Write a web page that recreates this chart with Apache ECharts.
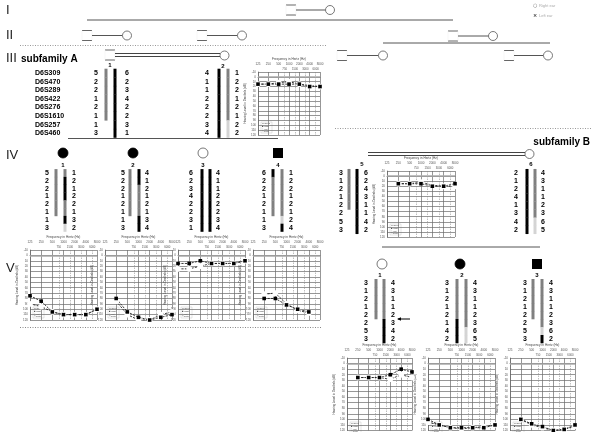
<!DOCTYPE html>
<html>
<head>
<meta charset="utf-8">
<script src="https://cdn.jsdelivr.net/npm/echarts@6/dist/echarts.min.js"></script>
<style>
  html, body { margin: 0; padding: 0; background: #fff; }
  #main { width: 591px; height: 432px; }
</style>
</head>
<body>
<div id="main"></div>
<script>
// ---- data ----
const genLabels = ['I', 'II', 'III', 'IV', 'V'];
const markers = ['D6S309', 'D6S470', 'D6S289', 'D6S422', 'D6S276', 'D6S1610', 'D6S257', 'D6S460'];
const freqLabels = ['125', '250', '500', '1000', '2000', '4000', '8000'];
const midFreqs = [750, 1500, 3000, 6000];
const dbTicks = [-10, 120];

// alleles (left / right haplotype) and bar colour codes per marker: g grey, k black, l light, . none
const III1_L = [5, 2, 2, 1, 2, 1, 1, 3], III1_R = [6, 2, 3, 4, 2, 2, 3, 1], III1_BARS = ['gggggg..', 'kkkkkkkk'];
const III2_L = [4, 1, 1, 2, 2, 2, 3, 4], III2_R = [1, 2, 2, 1, 2, 1, 2, 2], III2_BARS = ['kkkkkkkk', 'ggggggll'];
const IV1_L = [5, 2, 2, 1, 2, 1, 1, 3], IV1_R = [1, 2, 1, 2, 2, 1, 3, 2], IV1_BARS = ['gggggg..', 'gkkkggkl'];
const IV2_L = [5, 2, 2, 1, 2, 1, 1, 3], IV2_R = [4, 1, 2, 1, 2, 1, 3, 4], IV2_BARS = ['gggggg..', 'kkggggkk'];
const IV3_L = [6, 2, 3, 4, 2, 2, 3, 1], IV3_R = [4, 1, 1, 2, 2, 2, 3, 4], IV3_BARS = ['kkkkkkkk', 'kkkkkkkk'];
const IV4_L = [6, 2, 2, 1, 2, 1, 1, 3], IV4_R = [1, 2, 2, 1, 2, 1, 2, 4], IV4_BARS = ['kggggg..', 'gggggglk'];
const B5_L = [3, 1, 2, 1, 2, 2, 5, 3], B5_R = [6, 2, 4, 3, 1, 1, 4, 2], B5_BARS = ['ggggg...', 'kkkkkkkk'];
const B6_L = [2, 1, 2, 4, 1, 3, 4, 2], B6_R = [4, 3, 1, 1, 2, 3, 6, 5], B6_BARS = ['kkkkkkkk', 'ggggggll'];
const BV1_L = [3, 1, 2, 1, 2, 2, 5, 3], BV1_R = [4, 3, 1, 1, 2, 3, 4, 2], BV1_BARS = ['ggggg...', 'gggggkkk'];
const BV2_L = [3, 1, 2, 1, 2, 1, 4, 2], BV2_R = [4, 3, 1, 1, 2, 3, 6, 5], BV2_BARS = ['gggggkkk', 'ggggggll'];
const BV3_L = [3, 1, 2, 1, 2, 2, 5, 3], BV3_R = [4, 3, 1, 1, 2, 3, 6, 2], BV3_BARS = ['ggggg...', 'gggggglk'];

// audiograms, dB HL at 125..8000 Hz (null = not tested)
const AUD_III2_RIGHT = [15, 15, 12, 10, 15, 18, 20];
const AUD_III2_LEFT = [15, 15, 15, 15, 15, 20, 20];
const AUD_V1_RIGHT = [90, 95, 105, 110, 110, 110, 100];
const AUD_V1_LEFT = [75, 85, 105, 110, 110, 110, 100];
const AUD_V2_RIGHT = [null, 85, 110, 120, 120, 110, 105];
const AUD_V2_LEFT = [null, 80, 105, 115, 120, 115, 110];
const AUD_V3_RIGHT = [25, 25, 20, 15, 15, 15, 10];
const AUD_V3_LEFT = [15, 15, 10, 15, 15, 15, 10];
const AUD_V4_RIGHT = [null, 72, 70, 90, 102, 107, null];
const AUD_V4_LEFT = [null, 80, 80, 92, 100, 105, null];
const AUD_B5_RIGHT = [null, 15, 15, 12, 18, 20, 20];
const AUD_B5_LEFT = [null, 15, 15, 15, 20, 20, 15];
const AUD_BV1_RIGHT = [null, 25, 25, 25, 28, 20, 25];
const AUD_BV1_LEFT = [null, 25, 25, 25, 20, 10, 15];
const AUD_BV2_RIGHT = [105, 110, 115, 117, 115, 113, 110];
const AUD_BV2_LEFT = [100, 110, 115, 115, 115, 115, 110];
const AUD_BV3_RIGHT = [null, 100, 110, 115, 120, 118, 112];
const AUD_BV3_LEFT = [null, 100, 108, 113, 120, 118, 110];

// ---- drawing helpers (pedigree as graphic elements) ----
const colours = { g: '#808080', k: '#000', l: '#d4d4d4' };
const G = [];
function ln(x1, y1, x2, y2, style) {
  G.push({ type: 'line', silent: true, shape: { x1, y1, x2, y2 },
    style: Object.assign({ stroke: '#444', lineWidth: 1 }, style || {}) });
}
function txt(x, y, s, font, align, fill) {
  G.push({ type: 'text', silent: true, x, y,
    style: { text: String(s), font: font, textAlign: align || 'center', textVerticalAlign: 'middle', fill: fill || '#000' } });
}
function circle(cx, cy, r, filled) {
  G.push({ type: 'circle', silent: true, shape: { cx, cy, r },
    style: { fill: filled ? '#000' : '#fff', stroke: filled ? '#000' : '#555', lineWidth: 0.8 } });
}
function square(cx, cy, s, filled) {
  if (filled) {
    G.push({ type: 'rect', silent: true, shape: { x: cx - s / 2, y: cy - s / 2, width: s, height: s }, style: { fill: '#000' } });
  } else {
    ln(cx - s / 2, cy - s / 2, cx + s / 2, cy - s / 2, { stroke: '#666' });
    ln(cx - s / 2, cy + s / 2, cx + s / 2, cy + s / 2, { stroke: '#666' });
    ln(cx - s / 2, cy - s / 2, cx - s / 2, cy + s / 2, { stroke: '#eee', lineWidth: 0.5 });
    ln(cx + s / 2, cy - s / 2, cx + s / 2, cy + s / 2, { stroke: '#eee', lineWidth: 0.5 });
  }
}
function couple(sqX, y, circX) {
  square(sqX, y, 10, false);
  ln(sqX + 5, y, circX - 4.5, y, { stroke: '#555' });
  circle(circX, y, 4.5, false);
}
const numFont = 'bold 7px "Liberation Sans", Arial, sans-serif';
const idFont = 'bold 6px "Liberation Sans", Arial, sans-serif';
function haplotype(cols, y0, step, L, R, bars) {
  for (let i = 0; i < L.length; i++) {
    const y = y0 + i * step;
    txt(cols[0], y, L[i], numFont);
    txt(cols[3], y, R[i], numFont);
    [0, 1].forEach(b => {
      const c = bars[b][i];
      if (colours[c]) {
        G.push({ type: 'rect', silent: true,
          shape: { x: cols[1 + b] - 1.5, y: y - step / 2, width: 3, height: step + 0.3 }, style: { fill: colours[c] } });
      }
    });
  }
}

// generation labels
const romanFont = '13px "Liberation Sans", Arial, sans-serif';
const genY = [10, 35, 58, 155, 268];
genLabels.forEach((g, i) => txt(6, genY[i], g, romanFont, 'left', '#222'));

// I and II
couple(291, 10, 330);
ln(87, 20, 453, 20, { stroke: '#555' });
couple(87, 35.5, 127);
couple(202, 35.5, 242);
couple(453, 36, 493);
ln(383, 43, 550, 43, { stroke: '#555' });
ln(20, 45.5, 326, 45.5, { stroke: '#999', lineDash: [1, 1.5] });

// III
txt(21, 59, 'subfamily A', 'bold 10px "Liberation Sans", Arial, sans-serif', 'left');
square(110, 55, 10, false);
ln(115, 53.5, 220, 53.5, { stroke: '#444' });
ln(115, 56.5, 220, 56.5, { stroke: '#444' });
circle(224.5, 55.5, 4.5, false);
txt(110, 65.5, '1', idFont);
txt(223, 66, '2', idFont);
couple(342, 55.5, 383);
couple(509, 55.5, 548);
const IIIy0 = 73, IIIstep = 8.6;
markers.forEach((m, i) => txt(35, IIIy0 + i * IIIstep, m, numFont, 'left'));
haplotype([96, 106, 115, 127], IIIy0, IIIstep, III1_L, III1_R, III1_BARS);
haplotype([207, 219, 228, 237], IIIy0, IIIstep, III2_L, III2_R, III2_BARS);
ln(68, 138.5, 278, 138.5, { stroke: '#555' });

// IV
const ivX = [63, 133, 203, 278];
circle(ivX[0], 153, 5, true);
circle(ivX[1], 153, 5, true);
circle(ivX[2], 153, 5, false);
square(ivX[3], 153, 10, true);
ivX.forEach((x, i) => txt(x, 165, i + 1, idFont));
const IVy0 = 173, IVstep = 7.8;
haplotype([47, 56, 65, 74], IVy0, IVstep, IV1_L, IV1_R, IV1_BARS);
haplotype([123, 130, 139, 147], IVy0, IVstep, IV2_L, IV2_R, IV2_BARS);
haplotype([191, 202, 210, 218], IVy0, IVstep, IV3_L, IV3_R, IV3_BARS);
haplotype([264, 273, 282, 291], IVy0, IVstep, IV4_L, IV4_R, IV4_BARS);
ln(20, 327.5, 322, 327.5, { stroke: '#888', lineDash: [1, 1.5] });

// subfamily B
ln(335, 128.5, 591, 128.5, { stroke: '#999', lineDash: [1, 1.5] });
txt(590, 142, 'subfamily B', 'bold 10px "Liberation Sans", Arial, sans-serif', 'right');
ln(368, 152.5, 525, 152.5, { stroke: '#444' });
ln(368, 155.5, 525, 155.5, { stroke: '#444' });
circle(529.5, 154, 4.5, false);
txt(362, 164, '5', idFont);
txt(531, 164, '6', idFont);
haplotype([341, 349, 357, 366], 173, 8.1, B5_L, B5_R, B5_BARS);
haplotype([516, 527, 535, 543], 173, 8.1, B6_L, B6_R, B6_BARS);
ln(382, 247, 540, 247, { stroke: '#555' });
circle(382, 264, 5, false);
circle(460, 264, 5, true);
square(537, 264, 10, true);
[[380, 1], [462, 2], [537, 3]].forEach(p => txt(p[0], 275, p[1], idFont));
haplotype([366, 376, 384, 393], 283, 8, BV1_L, BV1_R, BV1_BARS);
haplotype([447, 457, 466, 475], 283, 8, BV2_L, BV2_R, BV2_BARS);
haplotype([525, 533, 542, 551], 283, 8, BV3_L, BV3_R, BV3_BARS);
// arrow
ln(398, 319, 410, 319, { stroke: '#000', lineWidth: 1 });
G.push({ type: 'polygon', silent: true, shape: { points: [[397, 319], [401, 317.3], [401, 320.7]] }, style: { fill: '#000' } });

// top right key
txt(533, 6, '○', '5px "DejaVu Sans", sans-serif', 'left', '#666');
txt(539, 6, 'Right ear', '4px "Liberation Sans", sans-serif', 'left', '#aaa');
txt(533, 16, '×', 'bold 5px "DejaVu Sans", sans-serif', 'left', '#333');
txt(539, 16, 'Left ear', '4px "Liberation Sans", sans-serif', 'left', '#aaa');

// ---- audiograms (grids) ----
const grids = [], xAxes = [], yAxes = [], series = [];
const tiny = { fontSize: 3, color: '#555', fontFamily: 'Liberation Sans' };
function audiogram(rect, right, left) {
  const gi = grids.length;
  grids.push({ left: rect[0], top: rect[1], width: rect[2], height: rect[3], show: false });
  xAxes.push({
    gridIndex: gi, type: 'value', min: 0, max: 6, interval: 1, position: 'top',
    name: 'Frequency in Hertz (Hz)', nameLocation: 'middle', nameGap: 11,
    nameTextStyle: { fontSize: 3.2, color: '#444' },
    axisLine: { show: true, lineStyle: { color: '#666', width: 0.7 } },
    axisTick: { show: false },
    axisLabel: Object.assign({ margin: 6.5, formatter: v => freqLabels[v] }, tiny),
    splitLine: { show: true, lineStyle: { color: '#6a6a6a', width: 0.7 } }
  });
  yAxes.push({
    gridIndex: gi, type: 'value', min: dbTicks[0], max: dbTicks[1], interval: 10, inverse: true,
    name: 'Hearing Level in Decibels (dB)', nameLocation: 'middle', nameGap: 7,
    nameTextStyle: { fontSize: 3, color: '#444' },
    axisLine: { show: true, lineStyle: { color: '#666', width: 0.7 } },
    axisTick: { show: false },
    axisLabel: Object.assign({ margin: 2 }, tiny),
    splitLine: { show: true, lineStyle: { color: '#6a6a6a', width: 0.7 } }
  });
  const pts = arr => arr.map((v, i) => [i, v]).filter(p => p[1] != null);
  series.push({
    type: 'line', name: 'right', xAxisIndex: gi, yAxisIndex: gi, data: pts(right),
    symbol: 'emptyCircle', symbolSize: 3.8, silent: true,
    lineStyle: { type: [2.2, 1.2], width: 0.9, color: '#222' },
    itemStyle: { color: '#fff', borderColor: '#111', borderWidth: 0.7 },
    markLine: {
      silent: true, symbol: 'none', animation: false,
      lineStyle: { type: [1.5, 1], color: '#888', width: 0.55 },
      label: { show: true, position: 'start', fontSize: 2.8, color: '#555', distance: 1, formatter: p => p.name },
      data: midFreqs.map(f => ({ name: String(f), xAxis: Math.log2(f / 125) }))
        .concat([{ yAxis: 0, lineStyle: { type: 'solid', color: '#aaa', width: 1.6 }, label: { show: false } }])
    }
  });
  series.push({
    type: 'line', name: 'left', xAxisIndex: gi, yAxisIndex: gi, data: pts(left),
    symbol: 'rect', symbolSize: 3.6, silent: true,
    lineStyle: { type: [2.2, 1.2], width: 0.9, color: '#222' },
    itemStyle: { color: '#000' }
  });
  // legend box
  const lx = rect[0] + 3, ly = rect[1] + rect[3] - 13;
  G.push({ type: 'rect', silent: true, shape: { x: lx, y: ly, width: 11, height: 11 }, style: { fill: '#fff', stroke: '#bbb', lineWidth: 0.4 } });
  ['Legend', '■ right', '○ left', '□ both'].forEach((s, i) =>
    G.push({ type: 'text', silent: true, x: lx + 1, y: ly + 1.8 + i * 2.6,
      style: { text: s, font: '2.4px "Liberation Sans"', fill: '#444', textVerticalAlign: 'middle' } }));
}

audiogram([258, 72, 62, 63], AUD_III2_RIGHT, AUD_III2_LEFT);
audiogram([30, 250, 67, 70], AUD_V1_RIGHT, AUD_V1_LEFT);
audiogram([105, 250, 67, 70], AUD_V2_RIGHT, AUD_V2_LEFT);
audiogram([178, 250, 67, 70], AUD_V3_RIGHT, AUD_V3_LEFT);
audiogram([253, 250, 67, 70], AUD_V4_RIGHT, AUD_V4_LEFT);
audiogram([387, 171, 68, 66], AUD_B5_RIGHT, AUD_B5_LEFT);
audiogram([347, 358, 65, 77], AUD_BV1_RIGHT, AUD_BV1_LEFT);
audiogram([428, 358, 67, 77], AUD_BV2_RIGHT, AUD_BV2_LEFT);
audiogram([510, 358, 65, 77], AUD_BV3_RIGHT, AUD_BV3_LEFT);

const chart = echarts.init(document.getElementById('main'));
chart.setOption({
  animation: false,
  backgroundColor: '#fff',
  grid: grids,
  xAxis: xAxes,
  yAxis: yAxes,
  series: series,
  graphic: { elements: G }
});
</script>
</body>
</html>
